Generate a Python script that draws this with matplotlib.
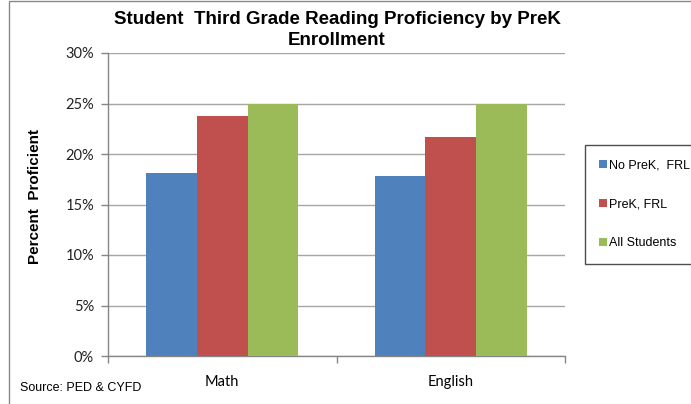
import numpy as np
import matplotlib
matplotlib.use("Agg")
import matplotlib.pyplot as plt
from matplotlib.patches import Rectangle

plt.rcParams['font.family'] = ['Liberation Sans', 'DejaVu Sans']

categories = ["Math", "English"]
series_names = ["No PreK,  FRL", "PreK, FRL", "All Students"]
no_prek_frl = [18.1, 17.8]
prek_frl = [23.8, 21.7]
all_students = [25.0, 25.0]
colors = ["#4F81BD", "#C0504D", "#9BBB59"]
yticks = [0, 5, 10, 15, 20, 25, 30]

W, H = 691, 404
fig = plt.figure(figsize=(W / 100, H / 100), dpi=100)

# chart area border
fig.patches.append(Rectangle((9 / W, -0.01), 1.0, 1.0 - 1 / H + 0.01, transform=fig.transFigure,
                             fill=False, edgecolor="#888888", linewidth=1.0))

ax = fig.add_axes([108 / W, 48 / H, 457 / W, 303 / H])

x = np.arange(len(categories))
w = 1 / 4.5
for i, (vals, name) in enumerate(zip([no_prek_frl, prek_frl, all_students], series_names)):
    ax.bar(x + (i - 1) * w, vals, width=w, color=colors[i], label=name, zorder=3)

ax.set_xlim(-0.5, 1.5)
ax.set_ylim(0, 30)
ax.set_yticks(yticks)
ax.set_yticklabels([f"{t}%" for t in yticks], fontsize=10.5, family=["Lato", "DejaVu Sans"],
                   color="#222222")
ax.yaxis.grid(True, color="#a6a6a6", linewidth=1.0, zorder=0)
ax.set_xticks(x)
ax.set_xticklabels(categories, fontsize=10.5, family=["Lato", "DejaVu Sans"])
ax.tick_params(axis="x", length=0, pad=14)
ax.tick_params(axis="y", length=5, color="#868686", width=1.0, pad=5)

# category separators on the x axis
ax.set_xticks([-0.5, 0.5, 1.5], minor=True)
ax.tick_params(axis="x", which="minor", length=5, color="#868686", width=1.0, direction="out")

for s in ["top", "right"]:
    ax.spines[s].set_visible(False)
for s in ["left", "bottom"]:
    ax.spines[s].set_color("#868686")
    ax.spines[s].set_linewidth(1.0)

fig.text(337 / W, 1 - 30 / H, "Student  Third Grade Reading Proficiency by PreK\nEnrollment",
         ha="center", va="center", fontsize=13.5, fontweight="bold", linespacing=1.25)
fig.text(35 / W, 1 - 196 / H, "Percent  Proficient", rotation=90, ha="center", va="center",
         fontsize=11, fontweight="bold")
fig.text(20 / W, 1 - 388 / H, "Source: PED & CYFD", ha="left", va="center", fontsize=9)

leg = fig.legend(loc="upper left", bbox_to_anchor=(585 / W, 1 - 145 / H), frameon=True,
                 fontsize=9, handlelength=0.6, handleheight=0.6, handletextpad=0.15,
                 labelspacing=2.15, borderpad=1.15, borderaxespad=0, fancybox=False)
leg.get_frame().set_edgecolor("#222222")
leg.get_frame().set_linewidth(1.0)

fig.savefig("out.png", dpi=100)
